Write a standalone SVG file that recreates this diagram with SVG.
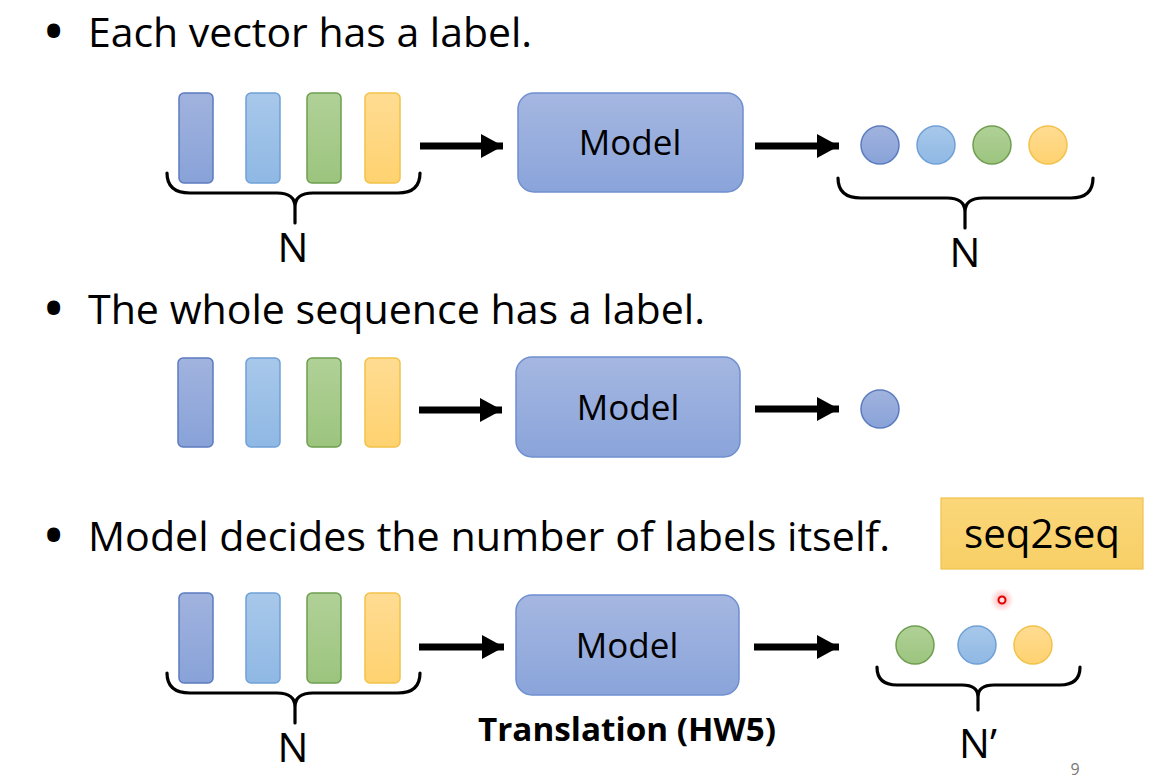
<svg xmlns="http://www.w3.org/2000/svg" width="1161" height="781" viewBox="0 0 1161 781">
  <style>
    .t { font-family: "Open Sans", "Liberation Sans", sans-serif; fill: #000; }
    .title { font-size: 40px; }
    .bullet { font-size: 46px; font-weight: bold; }
    .model { font-size: 35px; text-anchor: middle; }
    .n { font-size: 41px; text-anchor: middle; }
    .bv { stroke-width: 1.5; }
    .b1 { fill: url(#gBlue); stroke: #5B7BC0; }
    .b2 { fill: url(#gLight); stroke: #6FA0D6; }
    .b3 { fill: url(#gGreen); stroke: #6E9E4F; }
    .b4 { fill: url(#gYellow); stroke: #F2C24A; }
    .box { fill: url(#gModel); stroke: #6F8FCF; stroke-width: 1.5; }
    .brace { fill: none; stroke: #000; stroke-width: 3.2; stroke-linecap: round; stroke-linejoin: round; }
    .arrow { stroke: #000; stroke-width: 7; marker-end: url(#head); }
  </style>
  <defs>
    <linearGradient id="gBlue" x1="0" y1="0" x2="0" y2="1">
      <stop offset="0" stop-color="#A1B3DE"/><stop offset="1" stop-color="#88A2D8"/>
    </linearGradient>
    <linearGradient id="gLight" x1="0" y1="0" x2="0" y2="1">
      <stop offset="0" stop-color="#A8C8EA"/><stop offset="1" stop-color="#8FB8E4"/>
    </linearGradient>
    <linearGradient id="gGreen" x1="0" y1="0" x2="0" y2="1">
      <stop offset="0" stop-color="#B0D197"/><stop offset="1" stop-color="#9CC47E"/>
    </linearGradient>
    <linearGradient id="gYellow" x1="0" y1="0" x2="0" y2="1">
      <stop offset="0" stop-color="#FFDC93"/><stop offset="1" stop-color="#FFD270"/>
    </linearGradient>
    <linearGradient id="gModel" x1="0" y1="0" x2="0" y2="1">
      <stop offset="0" stop-color="#A5B7E1"/><stop offset="1" stop-color="#8AA4DA"/>
    </linearGradient>
    <linearGradient id="gSeq" x1="0" y1="0" x2="0" y2="1">
      <stop offset="0" stop-color="#FBD77A"/><stop offset="1" stop-color="#F8CF66"/>
    </linearGradient>
    <radialGradient id="gGlow">
      <stop offset="0" stop-color="#FF6060" stop-opacity="0.6"/><stop offset="1" stop-color="#FF8080" stop-opacity="0"/>
    </radialGradient>
    <marker id="head" markerUnits="userSpaceOnUse" markerWidth="24" markerHeight="26" refX="22" refY="13" orient="auto">
      <polygon points="0,1 22,13 0,25" fill="#000"/>
    </marker>
  </defs>

  <g id="titles">
    <text class="t bullet" x="45" y="48">•</text>
    <text class="t title" x="88" y="47" textLength="444" lengthAdjust="spacingAndGlyphs">Each vector has a label.</text>
    <text class="t bullet" x="45" y="325">•</text>
    <text class="t title" x="88" y="324" textLength="617" lengthAdjust="spacingAndGlyphs">The whole sequence has a label.</text>
    <text class="t bullet" x="45" y="552">•</text>
    <text class="t title" x="88" y="551" textLength="802" lengthAdjust="spacingAndGlyphs">Model decides the number of labels itself.</text>
  </g>

  <!-- Row 1 -->
  <g id="input1">
    <rect class="b1 bv" x="179" y="93" width="34" height="90" rx="5"/>
    <rect class="b2 bv" x="246" y="93" width="34" height="90" rx="5"/>
    <rect class="b3 bv" x="307" y="93" width="34" height="90" rx="5"/>
    <rect class="b4 bv" x="365" y="93" width="35" height="90" rx="5"/>
    <path class="brace" d="M167,173 Q167,193 190,193 L277,193 Q295,193 295,207 L295,223 M295,207 Q295,193 313,193 L398,193 Q420,193 420,173"/>
    <text class="t n" x="293" y="262">N</text>
  </g>
  <g id="model1">
    <rect class="box" x="518" y="93" width="225" height="99" rx="16"/>
    <text class="t model" x="630" y="155">Model</text>
  </g>
  <g id="output1">
    <circle class="b1 bv" cx="880" cy="145" r="19"/>
    <circle class="b2 bv" cx="936" cy="145" r="19"/>
    <circle class="b3 bv" cx="992" cy="145" r="19"/>
    <circle class="b4 bv" cx="1048" cy="145" r="19"/>
    <path class="brace" d="M838,178 Q838,198 861,198 L947,198 Q965,198 965,212 L965,228 M965,212 Q965,198 983,198 L1071,198 Q1093,198 1093,178"/>
    <text class="t n" x="965" y="267">N</text>
  </g>

  <!-- Row 2 -->
  <g id="input2">
    <rect class="b1 bv" x="178" y="358" width="35" height="89" rx="5"/>
    <rect class="b2 bv" x="246" y="358" width="34" height="89" rx="5"/>
    <rect class="b3 bv" x="307" y="358" width="34" height="89" rx="5"/>
    <rect class="b4 bv" x="365" y="358" width="35" height="89" rx="5"/>
  </g>
  <g id="model2">
    <rect class="box" x="516" y="357" width="224" height="100" rx="16"/>
    <text class="t model" x="628" y="420">Model</text>
  </g>
  <g id="output2">
    <circle class="b1 bv" cx="880" cy="409" r="19"/>
  </g>

  <!-- Row 3 -->
  <g id="input3">
    <rect class="b1 bv" x="179" y="593" width="34" height="90" rx="5"/>
    <rect class="b2 bv" x="246" y="593" width="34" height="90" rx="5"/>
    <rect class="b3 bv" x="307" y="593" width="34" height="90" rx="5"/>
    <rect class="b4 bv" x="365" y="593" width="35" height="90" rx="5"/>
    <path class="brace" d="M167,673 Q167,693 190,693 L277,693 Q295,693 295,707 L295,723 M295,707 Q295,693 313,693 L398,693 Q420,693 420,673"/>
    <text class="t n" x="293" y="762">N</text>
  </g>
  <g id="model3">
    <rect class="box" x="516" y="595" width="223" height="100" rx="16"/>
    <text class="t model" x="627" y="658">Model</text>
    <text class="t" x="478" y="741" font-size="33" font-weight="bold" textLength="298" lengthAdjust="spacingAndGlyphs">Translation (HW5)</text>
  </g>
  <g id="output3">
    <circle class="b3 bv" cx="915" cy="645" r="19"/>
    <circle class="b2 bv" cx="977" cy="645" r="19"/>
    <circle class="b4 bv" cx="1033" cy="645" r="19"/>
    <path class="brace" d="M877,667 Q877,685 897,685 L962,685 Q978,685 978,697 L978,710 M978,697 Q978,685 994,685 L1060,685 Q1080,685 1080,667"/>
    <text class="t n" x="978" y="758">N’</text>
  </g>

  <g id="seq2seq">
    <rect x="941" y="498" width="202" height="71" fill="url(#gSeq)" stroke="#F0C24E" stroke-width="1.2"/>
    <text class="t" x="1042" y="548" font-size="41" text-anchor="middle" textLength="156" lengthAdjust="spacingAndGlyphs">seq2seq</text>
  </g>

  <g id="pointer">
    <circle cx="1002" cy="600" r="12" fill="url(#gGlow)"/>
    <circle cx="1002" cy="600" r="3.5" fill="#FFE0E0" stroke="#E00000" stroke-width="2"/>
  </g>

  <text class="t" x="1075" y="775" font-size="16" text-anchor="middle" style="fill:#777">9</text>

  <g id="connectors">
    <line class="arrow" x1="420" y1="146" x2="503" y2="146"/>
    <line class="arrow" x1="755" y1="146" x2="839" y2="146"/>
    <line class="arrow" x1="419" y1="410" x2="502" y2="410"/>
    <line class="arrow" x1="755" y1="409" x2="839" y2="409"/>
    <line class="arrow" x1="419" y1="647" x2="504" y2="647"/>
    <line class="arrow" x1="754" y1="647" x2="839" y2="647"/>
  </g>
</svg>
